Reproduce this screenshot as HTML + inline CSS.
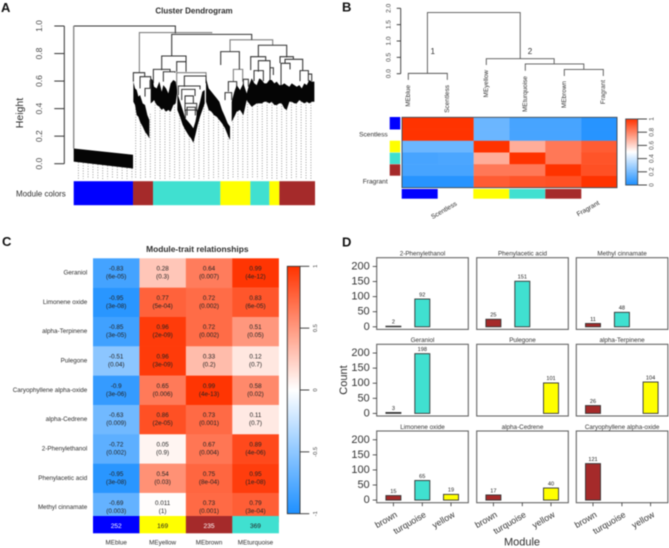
<!DOCTYPE html>
<html lang="en">
<head>
<meta charset="utf-8">
<title>WGCNA module figure</title>
<style>
html,body{margin:0;padding:0;background:#fff;width:669px;height:548px;overflow:hidden}
svg{display:block;font-family:"Liberation Sans",sans-serif;filter:blur(0.4px)}
</style>
</head>
<body>
<svg id="fig" xmlns="http://www.w3.org/2000/svg" width="669" height="548" viewBox="0 0 669 548">
  <defs>
    <linearGradient id="bwr" x1="0" y1="1" x2="0" y2="0">
      <stop offset="0" stop-color="#1E90FF"/><stop offset="0.5" stop-color="#FFFFFF"/><stop offset="1" stop-color="#FF3300"/>
    </linearGradient>
  </defs>
  <g id="panelA"></g>
  <g id="panelB"></g>
  <g id="panelC"></g>
  <g id="panelD"></g>
</svg>
<script>
/* ---------- Panel A data: heights and leaf positions (0-724) ---------- */
const aHeightTicks = [0, 0.2, 0.4, 0.6, 0.8, 1];
const aTightPos = [0, 178];
const aTightTop = [0.11, 0.065];
const aTightBottom = [0.015, -0.035];
const aClade1Pos = [179,184,189,194,199,207,214,221,227];
const aClade1Top = [0.596,0.547,0.535,0.487,0.499,0.438,0.426,0.353,0.317];
const aClade1Bottom = [0.45,0.426,0.353,0.341,0.305,0.269,0.232,0.208,0.184];
const aClade2Pos = [231,237,241,249,257,264,269,277,284,291,299,306,310];
const aClade2Top = [0.62,0.608,0.559,0.547,0.596,0.523,0.571,0.547,0.511,0.583,0.608,0.596,0.535];
const aClade2Bottom = [0.438,0.45,0.462,0.426,0.414,0.39,0.402,0.378,0.39,0.378,0.426,0.438,0.511];
const aClade3Pos = [311,319,327,335,344,352,359,365,372,379,386,393];
const aClade3Top = [0.511,0.45,0.39,0.329,0.305,0.281,0.257,0.305,0.39,0.45,0.523,0.535];
const aClade3Bottom = [0.39,0.341,0.281,0.245,0.208,0.184,0.152,0.208,0.281,0.341,0.39,0.438];
const aClade4Pos = [397,405,413,421,429,437,445,454,462,469];
const aClade4Top = [0.62,0.547,0.523,0.499,0.475,0.45,0.39,0.341,0.293,0.269];
const aClade4Bottom = [0.45,0.39,0.378,0.353,0.341,0.317,0.293,0.257,0.208,0.172];
const aClade5Pos = [474,482,489,499,509,519,526,534,542,549,557,564,572,579,587,594,602,609,617,624,632,639,647,654,662,669,677,684,692,699,707,714,722];
const aClade5Top = [0.45,0.523,0.571,0.535,0.583,0.511,0.571,0.62,0.583,0.571,0.62,0.608,0.583,0.583,0.608,0.608,0.583,0.596,0.571,0.571,0.583,0.571,0.559,0.583,0.571,0.559,0.571,0.547,0.583,0.571,0.608,0.596,0.596];
const aClade5Bottom = [0.305,0.341,0.378,0.39,0.353,0.462,0.438,0.414,0.426,0.438,0.438,0.438,0.45,0.45,0.438,0.45,0.426,0.426,0.438,0.438,0.402,0.39,0.45,0.45,0.438,0.438,0.462,0.45,0.438,0.45,0.438,0.45,0.45];
const aMergesDark = [
 [0,305,1,1,0.947],[294,534,0.939,0.782,0.9],[441,497,0.814,0.717,0.685],[554,639,0.86,0.777,0.772],
 [531,576,0.777,0.68,0.748],[554,589,0.748,0.668,0.668],[541,569,0.676,0.6,0.6],[589,599,0.697,0.596,0.644],
 [619,659,0.777,0.73,0.758],[622,649,0.729,0.535,0.685],[634,687,0.758,0.729,0.676],[679,704,0.676,0.6,0.651],[704,714,0.651,0.6,0.6],
 [179,213,0.661,0.596,0.632],[199,231,0.632,0.547,0.608],[214,229,0.547,0.487,0.608],
 [264,337,0.782,0.68,0.741],[239,289,0.685,0.584,0.668],[269,304,0.668,0.596,0.661],[309,337,0.741,0.668,0.668],
 [332,397,0.637,0.559,0.584],[314,379,0.564,0.499,0.54],[324,364,0.54,0.462,0.492],[334,359,0.492,0.44,0.44],
 [334,369,0.438,0.38,0.38],[340,365,0.41,0.35,0.35],[335,370,0.39,0.33,0.33],
 [464,489,0.596,0.523,0.547],[454,474,0.516,0.462,0.462],[509,524,0.613,0.559,0.559]
];
const aMergesFaded = [
 [197,414,0.952,0.661,0.947],[469,597,0.9,0.814,0.86],[309,397,0.661,0.511,0.637],[479,507,0.685,0.596,0.596]
];
const aModuleNames = ["blue","brown","turquoise","yellow","turquoise","yellow","brown"];
const aModuleEnds = [178,238,440,530,587,617,724];

/* ---------- Panel B data ---------- */
const bLabels = ["MEblue","Scentless","MEyellow","MEturquoise","MEbrown","Fragrant"];
const bMatrix = [
 [1,1,0.17,0.09,0.09,0.02],
 [1,1,0.17,0.09,0.09,0.02],
 [0.17,0.17,1,0.7,0.83,0.9],
 [0.09,0.1,0.7,1,0.83,0.92],
 [0.09,0.09,0.83,0.83,1,0.93],
 [0.02,0.02,0.9,0.92,0.93,1]
];
const bMerges = [[0.49,2.87,1.87,0.01,0.46],[0,1,0.01,-0.19,-0.19],[2,3.74,0.46,0.265,0.3],[3,4.5,0.3,0.09,0.13],[4,5,0.13,-0.07,-0.07]];
const bHeightTicks = [0,0.5,1,1.5,2];
const bScaleTicks = [0,0.2,0.4,0.6,0.8,1];

/* ---------- Panel C data ---------- */
const cTraits = ["Geraniol","Limonene oxide","alpha-Terpinene","Pulegone","Caryophyllene alpha-oxide","alpha-Cedrene","2-Phenylethanol","Phenylacetic acid","Methyl cinnamate"];
const cModules = ["MEblue","MEyellow","MEbrown","MEturquoise"];
const cModuleSizes = [252,169,235,369];
const cCorr = [
 [-0.83,0.28,0.64,0.99],[-0.95,0.77,0.72,0.83],[-0.85,0.96,0.72,0.51],
 [-0.51,0.96,0.33,0.12],[-0.9,0.65,0.99,0.58],[-0.63,0.86,0.73,0.11],
 [-0.72,0.05,0.67,0.89],[-0.95,0.54,0.75,0.95],[-0.69,0.011,0.73,0.79]
];
const cPvals = [
 ["6e-05","0.3","0.007","4e-12"],["3e-08","5e-04","0.002","6e-05"],["3e-05","2e-09","0.002","0.05"],
 ["0.04","3e-09","0.2","0.7"],["3e-06","0.006","4e-13","0.02"],["0.009","2e-05","0.001","0.7"],
 ["0.002","0.9","0.004","4e-06"],["3e-08","0.03","8e-04","1e-08"],["0.003","1","0.001","3e-04"]
];
const cScaleTicks = [-1,-0.5,0,0.5,1];

/* ---------- Panel D data ---------- */
const dTitles = ["2-Phenylethanol","Phenylacetic acid","Methyl cinnamate","Geraniol","Pulegone","alpha-Terpinene","Limonene oxide","alpha-Cedrene","Caryophyllene alpha-oxide"];
const dCategories = ["brown","turquoise","yellow"];
const dBrown = [2,25,11,3,null,26,15,17,121];
const dTurquoise = [92,151,48,198,null,null,65,null,null];
const dYellow = [null,null,null,null,101,104,19,40,null];
const dTicks = [0,50,100,150,200];

/* ---------- helpers ---------- */
const NS = "http://www.w3.org/2000/svg";
const INK = "#2e2e2e";
const FILL = {blue:"#0000FF",brown:"#A52A2A",turquoise:"#40E0D0",yellow:"#FFFF00"};
function node(parent, tag, attrs, name, interactive) {
  const el = document.createElementNS(NS, tag);
  for (const k in attrs) el.setAttribute(k, attrs[k]);
  
  
  parent.appendChild(el);
  return el;
}
function line(p, x1, y1, x2, y2, stroke, w, name, extra) {
  return node(p, "line", Object.assign({x1, y1, x2, y2, stroke, "stroke-width": w}, extra || {}), name);
}
function rect(p, x, y, w, h, fill, name, extra) {
  return node(p, "rect", Object.assign({x, y, width: w, height: h, fill}, extra || {}), name);
}
function text(p, x, y, s, size, anchor, name, o) {
  o = o || {};
  const a = {x, y, "font-size": size, "text-anchor": anchor || "middle", "dominant-baseline": "central", fill: o.fill || INK};
  if (o.weight) a["font-weight"] = o.weight;
  if (o.rotate !== undefined) a.transform = "rotate(" + o.rotate + " " + x + " " + y + ")";
  const el = node(p, "text", a, name);
  el.textContent = s;
  return el;
}
function bwr(v) {
  const c0 = [30,144,255], c1 = [255,255,255], c2 = [255,51,0];
  const t = Math.max(-1, Math.min(1, v));
  const from = t < 0 ? c0 : c2, u = Math.abs(t);
  return "rgb(" + c1.map((c, i) => Math.round(c + (from[i] - c) * u)).join(",") + ")";
}

/* ---------- Panel A ---------- */
(function () {
  const g = document.getElementById("panelA");
  const X = p => 73.7 + p / 3;
  const Y = h => 163.7 - 137.7 * h;
  text(g, 1, 7.5, "A", 13, "start", "panel-a-letter", {weight: "bold", fill: "#111"});
  text(g, 194, 11, "Cluster Dendrogram", 8, "middle", "dendrogram-title", {weight: "bold"});
  text(g, 20, 113, "Height", 10.5, "middle", "y-axis-title", {rotate: -90});
  text(g, 16, 194, "Module colors", 8, "start", "module-colors-label");
  line(g, 64.3, Y(0), 64.3, Y(1), "#333", 1, "y-axis-line");
  aHeightTicks.forEach(t => {
    line(g, 54.3, Y(t), 64.3, Y(t), "#333", 1, "y-tick");
    text(g, 39, Y(t), t.toFixed(1), 8.5, "middle", "y-tick-label", {rotate: -90, fill: "#444"});
  });
  const allPos = aClade1Pos.concat(aClade2Pos, aClade3Pos, aClade4Pos, aClade5Pos);
  const allBottom = aClade1Bottom.concat(aClade2Bottom, aClade3Bottom, aClade4Bottom, aClade5Bottom);
  function interp(px, py, v) {
    for (let i = 1; i < px.length; i++) if (v <= px[i]) return py[i-1] + (py[i] - py[i-1]) * (v - px[i-1]) / (px[i] - px[i-1]);
    return py[py.length - 1];
  }
  for (let p = 14; p < 178; p += 14.6) {
    line(g, X(p), Y(interp(aTightPos, aTightBottom, p)), X(p), 179, "#777", 0.7, "leaf-guide", {"stroke-dasharray": "1 1.6"});
  }
  for (let p = 186; p < 724; p += 14.6) {
    line(g, X(p), Y(interp(allPos, allBottom, p)), X(p), 179, "#777", 0.7, "leaf-guide", {"stroke-dasharray": "1 1.6"});
  }
  function drawMerge(m, colour, w) {
    const d = "M" + X(m[0]) + " " + Y(m[3]) + "V" + Y(m[2]) + "H" + X(m[1]) + "V" + Y(m[4]);
    node(g, "path", {d, fill: "none", stroke: colour, "stroke-width": w}, "dendrogram-merge");
  }
  aMergesFaded.forEach(m => drawMerge(m, "#808080", 1.1));
  aMergesDark.forEach(m => drawMerge(m, "#333", 1.05));
  line(g, X(0), Y(1), X(0), Y(aTightTop[0]), "#8a8a8a", 1.4, "dendrogram-outlier-branch");
  function poly(px, top, bottom, name) {
    const pts = px.map((p, i) => X(p) + "," + Y(top[i]))
      .concat(px.map((p, i) => X(p) + "," + Y(bottom[i])).reverse()).join(" ");
    node(g, "polygon", {points: pts, fill: "#050505"}, name);
  }
  poly(aTightPos, aTightTop, aTightBottom, "blue-module-leaves");
  poly(aClade1Pos, aClade1Top, aClade1Bottom, "clade-1-leaves");
  poly(aClade2Pos, aClade2Top, aClade2Bottom, "clade-2-leaves");
  poly(aClade3Pos, aClade3Top, aClade3Bottom, "clade-3-leaves");
  poly(aClade4Pos, aClade4Top, aClade4Bottom, "clade-4-leaves");
  poly(aClade5Pos, aClade5Top, aClade5Bottom, "clade-5-leaves");
  let start = 0;
  aModuleNames.forEach((n, i) => {
    rect(g, X(start), 181.2, (aModuleEnds[i] - start) / 3, 24, FILL[n], "module-color-" + n);
    start = aModuleEnds[i];
  });
})();

/* ---------- Panel B ---------- */
(function () {
  const g = document.getElementById("panelB");
  const LX = i => 408.3 + i * 39;
  const HY = h => 73.7 - 32.7 * h;
  text(g, 342, 7, "B", 13, "start", "panel-b-letter", {weight: "bold", fill: "#111"});
  line(g, 400.7, HY(0), 400.7, HY(2), "#333", 0.9, "height-axis-line");
  bHeightTicks.forEach(t => {
    line(g, 396.7, HY(t), 400.7, HY(t), "#333", 0.9, "height-tick");
    text(g, 389, HY(t), t.toFixed(1), 6.5, "middle", "height-tick-label", {rotate: -90, fill: "#444"});
  });
  bMerges.forEach(m => {
    const d = "M" + LX(m[0]) + " " + HY(m[3]) + "V" + HY(m[2]) + "H" + LX(m[1]) + "V" + HY(m[4]);
    node(g, "path", {d, fill: "none", stroke: "#555", "stroke-width": 0.9}, "eigengene-merge");
  });
  text(g, 432.7, 51.7, "1", 8, "middle", "cluster-1-label");
  text(g, 530, 51.7, "2", 8, "middle", "cluster-2-label");
  const labelTops = [85, 85, 70, 76, 81, 80];
  bLabels.forEach((l, i) => {
    text(g, LX(i), labelTops[i], l, 6.4, "end", "leaf-label-" + l, {rotate: -90, fill: "#333"});
  });
  const cw = 215 / 6, ch = 70.4 / 6, x0 = 402, y0 = 117.3;
  bMatrix.forEach((row, r) => row.forEach((v, c) => {
    rect(g, x0 + c * cw, y0 + r * ch, cw + 0.2, ch + 0.2, bwr(2 * v - 1), "heatmap-cell");
  }));
  rect(g, x0, y0, 215, 70.4, "none", "heatmap-frame", {stroke: "#3f4a55", "stroke-width": 0.9});
  rect(g, 389.7, 117, 10.6, 12.5, FILL.blue, "row-color-blue");
  rect(g, 389.7, 140.7, 10.6, 11.6, FILL.yellow, "row-color-yellow");
  rect(g, 389.7, 152.7, 10.6, 11.3, FILL.turquoise, "row-color-turquoise");
  rect(g, 389.7, 164.3, 10.6, 11.4, FILL.brown, "row-color-brown");
  rect(g, 401.7, 189, 36, 9.7, FILL.blue, "column-color-blue");
  rect(g, 473.3, 189, 36, 9.7, FILL.yellow, "column-color-yellow");
  rect(g, 509.3, 189, 36, 9.7, FILL.turquoise, "column-color-turquoise");
  rect(g, 545.3, 189, 36, 9.7, FILL.brown, "column-color-brown");
  text(g, 387.7, 135, "Scentless", 6.6, "end", "row-group-scentless");
  text(g, 387.7, 182, "Fragrant", 6.6, "end", "row-group-fragrant");
  text(g, 444.3, 210.7, "Scentless", 6.6, "middle", "column-group-scentless", {rotate: -30});
  text(g, 588.3, 209, "Fragrant", 6.6, "middle", "column-group-fragrant", {rotate: -30});
  rect(g, 625.7, 119, 12, 66, "url(#bwr)", "color-scale-bar", {stroke: "#3f4a55", "stroke-width": 0.9});
  const SY = v => 185 - 66 * v;
  bScaleTicks.forEach(t => {
    line(g, 637.7, SY(t), 647, SY(t), "#333", 0.9, "color-scale-tick");
    text(g, 652, SY(t), String(t), 6.4, "middle", "color-scale-label", {rotate: -90, fill: "#444"});
  });
})();

/* ---------- Panel C ---------- */
(function () {
  const g = document.getElementById("panelC");
  const cw = 185.7 / 4, ch = 29.33, x0 = 93, y0 = 258.3;
  text(g, 2, 241.5, "C", 13, "start", "panel-c-letter", {weight: "bold", fill: "#111"});
  text(g, 197.3, 249, "Module-trait relationships", 8.4, "middle", "module-trait-title", {weight: "bold"});
  cCorr.forEach((row, r) => {
    text(g, 87.3, y0 + (r + 0.5) * ch, cTraits[r], 6.3, "end", "trait-label");
    row.forEach((v, c) => {
      rect(g, x0 + c * cw, y0 + r * ch, cw + 0.2, ch + 0.2, bwr(v), "correlation-cell");
    });
  });
  cCorr.forEach((row, r) => row.forEach((v, c) => {
    const cx = x0 + (c + 0.5) * cw, cy = y0 + (r + 0.5) * ch;
    text(g, cx, cy - 4, String(v), 6.3, "middle", "correlation-value", {fill: "#222"});
    text(g, cx, cy + 4, "(" + cPvals[r][c] + ")", 6.3, "middle", "p-value", {fill: "#222"});
  }));
  const sizeFill = [FILL.blue, FILL.yellow, FILL.brown, FILL.turquoise];
  const sizeInk = ["#fff", "#222", "#fff", "#222"];
  cModuleSizes.forEach((n, c) => {
    rect(g, x0 + c * cw, 516, cw + 0.2, 17.3, sizeFill[c], "module-size-band");
    text(g, x0 + (c + 0.5) * cw, 526.5, String(n), 6.6, "middle", "module-size", {fill: sizeInk[c]});
    text(g, x0 + (c + 0.5) * cw, 543, cModules[c], 6.3, "middle", "module-label");
  });
  rect(g, 287.3, 266.3, 12.7, 247.4, "url(#bwr)", "correlation-scale-bar", {stroke: "#333", "stroke-width": 0.9});
  const SY = v => 390 - 123.7 * v;
  cScaleTicks.forEach(t => {
    line(g, 300, SY(t), 309.3, SY(t), "#333", 0.9, "correlation-scale-tick");
    text(g, 316, SY(t), String(t), 5.8, "middle", "correlation-scale-label", {rotate: -90, fill: "#444"});
  });
})();

/* ---------- Panel D ---------- */
(function () {
  const g = document.getElementById("panelD");
  const colX = [376.7, 476.7, 576.3], rowY = [257.7, 344.3, 431];
  const PW = 91.6, PH = 71.7;
  const barOffset = [16.7, 45.6, 74.3], BW = 15;
  const series = [dBrown, dTurquoise, dYellow];
  text(g, 342, 242, "D", 13, "start", "panel-d-letter", {weight: "bold", fill: "#111"});
  text(g, 344, 380, "Count", 11, "middle", "count-axis-title", {rotate: -90});
  text(g, 522, 542.3, "Module", 11, "middle", "module-axis-title");
  dTitles.forEach((title, i) => {
    const col = i % 3, row = Math.floor(i / 3);
    const px = colX[col], py = rowY[row];
    const Y = v => py + PH - 2.6 - 0.3017 * v;
    text(g, px + PW / 2, py - 3.7, title, 6.3, "middle", "facet-title", {fill: "#333"});
    series.forEach((s, k) => {
      const v = s[i];
      if (v === null) return;
      const name = dCategories[k];
      rect(g, px + barOffset[k] - BW / 2, Y(v), BW, Y(0) - Y(v), FILL[name], "bar-" + name, {stroke: "#333", "stroke-width": 0.9});
      text(g, px + barOffset[k], Y(v) - 3.7, String(v), 5.6, "middle", "bar-value", {fill: "#222"});
    });
    rect(g, px, py, PW, PH, "none", "facet-frame", {stroke: "#666", "stroke-width": 1.1});
    if (col === 0) {
      dTicks.forEach(t => {
        line(g, px - 4, Y(t), px, Y(t), "#333", 0.8, "count-tick");
        text(g, px - 7, Y(t), String(t), 11, "end", "count-tick-label", {fill: "#333"});
      });
    }
    if (row === 2) {
      dCategories.forEach((c, k) => {
        line(g, px + barOffset[k], py + PH, px + barOffset[k], py + PH + 3.5, "#333", 0.8, "module-tick");
        text(g, px + barOffset[k] + 3, py + PH + 11, c, 8.8, "end", "module-tick-label", {rotate: -30, fill: "#333"});
      });
    }
  });
})();
</script>
</body>
</html>
